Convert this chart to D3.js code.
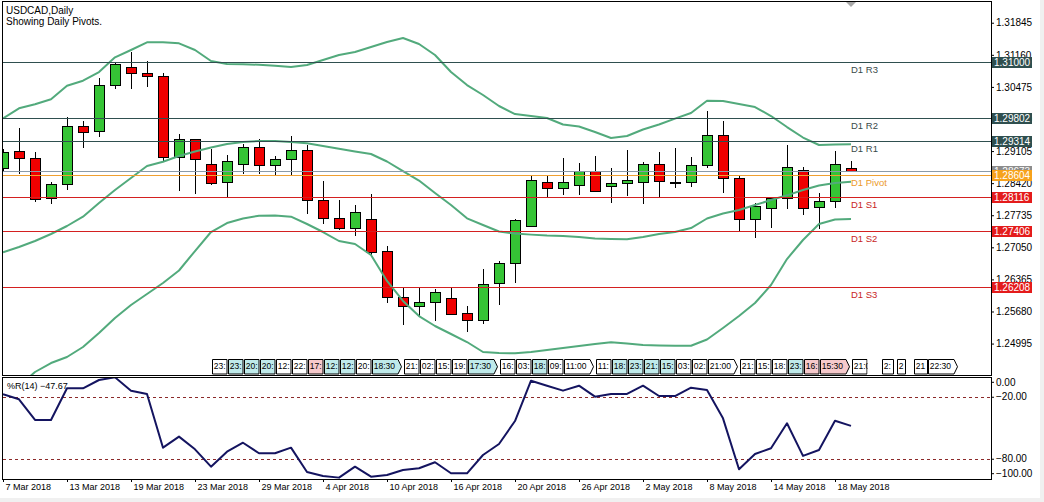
<!DOCTYPE html>
<html><head><meta charset="utf-8">
<script src="https://cdn.jsdelivr.net/npm/d3@7/dist/d3.min.js"></script>
<style>
html,body{margin:0;padding:0;background:#fff;overflow:hidden;}
svg{display:block;font-family:"Liberation Sans",Arial,sans-serif;}
</style></head><body>
<svg id="c" width="1044" height="502"></svg>
<script>
// ---------------- data ----------------
const dates = ["7 Mar 2018","8 Mar 2018","9 Mar 2018","12 Mar 2018","13 Mar 2018","14 Mar 2018","15 Mar 2018","16 Mar 2018",
"19 Mar 2018","20 Mar 2018","21 Mar 2018","22 Mar 2018","23 Mar 2018","26 Mar 2018","27 Mar 2018","28 Mar 2018",
"29 Mar 2018","30 Mar 2018","2 Apr 2018","3 Apr 2018","4 Apr 2018","5 Apr 2018","6 Apr 2018","9 Apr 2018",
"10 Apr 2018","11 Apr 2018","12 Apr 2018","13 Apr 2018","16 Apr 2018","17 Apr 2018","18 Apr 2018","19 Apr 2018",
"20 Apr 2018","23 Apr 2018","24 Apr 2018","25 Apr 2018","26 Apr 2018","27 Apr 2018","30 Apr 2018","1 May 2018",
"2 May 2018","3 May 2018","4 May 2018","7 May 2018","8 May 2018","9 May 2018","10 May 2018","11 May 2018",
"14 May 2018","15 May 2018","16 May 2018","17 May 2018","18 May 2018","21 May 2018"];

const open = [1.28737,1.29106,1.28957,1.28096,1.28395,1.29634,1.29527,1.30509,1.30893,1.30771,1.30707,1.28985,1.29356,1.28822,1.28438,1.28822,
1.29185,1.28814,1.28942,1.29121,1.28060,1.27676,1.27456,1.27654,1.26965,1.25995,1.25791,1.25876,1.25961,1.25641,1.25492,1.26282,
1.26709,1.27499,1.28438,1.28306,1.28387,1.28673,1.28365,1.28417,1.28438,1.28829,1.28453,1.28438,1.28801,1.29448,1.28523,1.27661,
1.27883,1.28096,1.28694,1.27904,1.28032,1.28737];
const high = [1.29149,1.29604,1.29078,1.28451,1.29826,1.29747,1.30658,1.31006,1.31226,1.31028,1.30765,1.29469,1.29362,1.29149,1.29021,1.29256,
1.29369,1.28993,1.29426,1.29228,1.28466,1.28060,1.27953,1.28182,1.27078,1.26209,1.26203,1.26153,1.26203,1.25797,1.26580,1.26751,
1.27654,1.28572,1.28600,1.28952,1.28850,1.28999,1.28737,1.29128,1.28878,1.29085,1.29170,1.28978,1.29960,1.29747,1.28594,1.27990,
1.28118,1.29234,1.28758,1.28203,1.29100,1.28893];
const low = [1.28679,1.28643,1.28045,1.28002,1.28288,1.29198,1.29433,1.30445,1.30445,1.30500,1.28899,1.28280,1.28216,1.28395,1.28131,1.28630,
1.28630,1.28587,1.28622,1.27789,1.27563,1.27441,1.27319,1.26879,1.25876,1.25419,1.25577,1.25504,1.25620,1.25257,1.25440,1.25846,
1.26316,1.27499,1.28131,1.28192,1.28188,1.28246,1.28024,1.28167,1.28002,1.28145,1.28344,1.28365,1.28758,1.28237,1.27420,1.27276,
1.27490,1.27889,1.27768,1.27469,1.27904,1.28673];
const close = [1.29091,1.28950,1.28088,1.28402,1.29634,1.29518,1.30515,1.30964,1.30765,1.30701,1.28985,1.29356,1.28929,1.28417,1.28886,1.29185,
1.28801,1.28929,1.29121,1.28054,1.27669,1.27456,1.27797,1.26956,1.25995,1.25791,1.25876,1.26089,1.25620,1.25492,1.26267,1.26709,
1.27627,1.28481,1.28310,1.28438,1.28673,1.28259,1.28417,1.28487,1.28829,1.28459,1.28451,1.28801,1.29448,1.28523,1.27648,1.27932,
1.28096,1.28758,1.27883,1.28032,1.28829,1.28673];

const bbUpper = [1.29804,1.30018,1.30103,1.30210,1.30500,1.30607,1.30793,1.31107,1.31263,1.31427,1.31427,1.31405,1.31263,1.31028,1.30964,1.30957,
1.30949,1.30927,1.30900,1.30942,1.31049,1.31156,1.31220,1.31327,1.31433,1.31519,1.31391,1.31156,1.30793,1.30515,1.30302,1.30067,
1.29896,1.29853,1.29811,1.29672,1.29629,1.29512,1.29384,1.29426,1.29565,1.29672,1.29798,1.29917,1.30180,1.30174,1.30110,1.30045,
1.29853,1.29618,1.29394,1.29234,1.29245,1.29249];
const bbMiddle = [1.26943,1.27057,1.27185,1.27334,1.27505,1.27704,1.27996,1.28274,1.28530,1.28786,1.28878,1.28999,1.29096,1.29181,1.29256,1.29298,
1.29320,1.29320,1.29298,1.29271,1.29213,1.29155,1.29096,1.29042,1.28882,1.28679,1.28476,1.28209,1.27953,1.27669,1.27526,1.27388,
1.27345,1.27321,1.27302,1.27291,1.27270,1.27240,1.27227,1.27221,1.27270,1.27334,1.27377,1.27462,1.27665,1.27772,1.27847,1.27953,
1.28060,1.28160,1.28274,1.28370,1.28423,1.28451];
const bbLower = [1.23790,1.24089,1.24388,1.24580,1.24708,1.24922,1.25220,1.25541,1.25818,1.26053,1.26288,1.26555,1.26971,1.27377,1.27569,1.27665,
1.27725,1.27729,1.27704,1.27548,1.27377,1.27185,1.27121,1.26886,1.26331,1.25904,1.25583,1.25370,1.25199,1.25028,1.24815,1.24793,
1.24787,1.24815,1.24857,1.24900,1.24943,1.24986,1.25022,1.24996,1.24964,1.24954,1.24949,1.24949,1.25082,1.25327,1.25583,1.25861,
1.26245,1.26800,1.27206,1.27548,1.27644,1.27654];

const wpr = [-17,-22,-42,-42,-11.3,-11.3,-3.3,-0.7,-13.6,-16.8,-68.8,-58.1,-70.4,-87.2,-72.7,-64,
-74.2,-74.2,-68.8,-92.3,-96.2,-97.8,-87.2,-96.9,-95.2,-90.4,-88.7,-82.9,-93.6,-93.6,-75.9,-65.2,
-43,-4,-8.8,-13.6,-8.8,-19.4,-16.8,-16.8,-8.8,-18.8,-18.8,-10.7,-13,-40.4,-89.7,-74.9,
-69.4,-45.2,-76.8,-71,-42.7,-47.67];

const priceTicks = [1.31845,1.31160,1.30475,1.29790,1.29105,1.28420,1.27735,1.27050,1.26365,1.25680,1.24995];
const pivotNames = ["D1 R3","D1 R2","D1 R1","D1 Pivot","D1 S1","D1 S2","D1 S3"];
const pivotValues = [1.31000,1.29802,1.29314,1.28604,1.28116,1.27406,1.26208];
const pivotKinds = ["r","r","r","p","s","s","s"];
const bidPrice = 1.28673;
const wprTicks = [0,-20,-80,-100];
const wprLevels = [-20,-80];
const dateTickIdx = [0,4,8,12,16,20,24,28,32,36,40,44,48,52];

const eventIdx = [13,14,15,16,17,18,19,20,21,22,23,25,26,27,28,29,31,32,33,34,35,37,38,39,40,41,42,43,44,46,47,48,49,50,51,53,54.85,55.8,56.9,57.77];
const eventText = ["23:","23:","20:","20:","12:","22:","17:","12:","12:","20:","18:30","21:","02:","15:","19:","17:30","16:","03:","18:","09:","11:00","11:","18:","23:","21:","15:","03:","02:","21:00","21:","15:","18:","23:","16:","15:30","21:00","2:","2","21","22:30"];
const eventKind = ["w","c","c","c","w","w","p","c","c","w","c","w","w","w","w","c","w","w","c","w","w","w","c","c","c","c","w","w","w","w","w","w","c","p","p","w","w","w","w","w"];
const eventShape = ["b","b","b","b","b","b","b","b","b","b","a","b","b","b","b","a","b","b","b","b","a","b","b","b","b","b","b","b","a","b","b","b","b","b","a","b","f","f","f","a"];

// ---------------- layout ----------------
const svg = d3.select("#c");
const X0 = 3, X1 = 991;
const mainTop = 1, mainBot = 375, indTop = 377, indBot = 479;
const FONT = '"Liberation Sans",Arial,sans-serif';

svg.append("rect").attr("width",1044).attr("height",502).attr("fill","#ffffff");
svg.append("rect").attr("x",0).attr("y",498).attr("width",1044).attr("height",4).attr("fill","#f0f0f0");
svg.append("rect").attr("x",1040).attr("y",0).attr("width",4).attr("height",502).attr("fill","#f0f0f0");

const x = d3.scaleLinear().domain([0, dates.length-1]).range([3, 851]);
const y = d3.scaleLinear().domain([1.24324, 1.32309]).range([mainBot, mainTop]);
const yw = d3.scaleLinear().domain([-100, 0]).range([479.9, 376.6]);

const defs = svg.append("defs");
defs.append("clipPath").attr("id","clipMain").append("rect")
  .attr("x",X0).attr("y",mainTop).attr("width",X1-X0).attr("height",mainBot-mainTop);
defs.append("clipPath").attr("id","clipInd").append("rect")
  .attr("x",X0).attr("y",indTop).attr("width",X1-X0).attr("height",indBot-indTop);

const gMain = svg.append("g").attr("clip-path","url(#clipMain)");

// candles
const cd = dates.map((d,i)=>({i,o:open[i],h:high[i],l:low[i],c:close[i]}));
const px = i => Math.round(x(i));
gMain.append("g").selectAll("line").data(cd).join("line")
  .attr("x1",d=>px(d.i)+0.5).attr("x2",d=>px(d.i)+0.5)
  .attr("y1",d=>Math.round(y(d.h))).attr("y2",d=>Math.round(y(d.l))+1)
  .attr("stroke","#000").attr("stroke-width",1).attr("shape-rendering","crispEdges");
gMain.append("g").selectAll("rect").data(cd).join("rect")
  .attr("x",d=>px(d.i)-4.5).attr("width",10)
  .attr("y",d=>Math.round(y(Math.max(d.o,d.c)))+0.5)
  .attr("height",d=>Math.max(1, Math.round(y(Math.min(d.o,d.c))) - Math.round(y(Math.max(d.o,d.c)))))
  .attr("fill",d=>d.c>=d.o ? "#35c435" : "#f00000")
  .attr("stroke","#000").attr("stroke-width",1).attr("shape-rendering","crispEdges");

// Bollinger bands
const bandLine = d3.line().x((d,i)=>x(i)).y(d=>y(d));
[bbUpper,bbMiddle,bbLower].forEach(arr=>{
  gMain.append("path").attr("d",bandLine(arr)).attr("fill","none")
    .attr("stroke","#52aa7c").attr("stroke-width",2).attr("stroke-linejoin","round");
});

// pivot lines
const pivColor = {r:"#2f4f4f", p:"#f0a030", s:"#d42020"};
const pivText = {r:"#3a4a4a", p:"#eb9a2a", s:"#c81e1e"};
const pivBg = {r:"#2f4f4f", p:"#f7a21b", s:"#e41b1b"};
gMain.append("line").attr("x1",X0).attr("x2",X1)
  .attr("y1",Math.round(y(bidPrice))+0.5).attr("y2",Math.round(y(bidPrice))+0.5)
  .attr("stroke","#8a9aa8").attr("stroke-width",1);
pivotValues.forEach((v,k)=>{
  const yy = Math.round(y(v))+0.5;
  gMain.append("line").attr("x1",X0).attr("x2",X1).attr("y1",yy).attr("y2",yy)
    .attr("stroke",pivColor[pivotKinds[k]]).attr("stroke-width",1);
  gMain.append("text").attr("x",x(dates.length-1)).attr("y",yy+10)
    .attr("font-size","9.5px").attr("fill",pivText[pivotKinds[k]]).text(pivotNames[k]);
});

// timeline event boxes
const boxTop = 359.5, boxBot = 374;
const gEv = gMain.append("g");
eventIdx.forEach((ix,k)=>{
  const x0 = Math.round(x(ix)) + 1.5;
  const kind = eventKind[k];
  const fill = kind==="c" ? "#bfeaea" : kind==="p" ? "#f6c9cb" : "#ffffff";
  const shp = eventShape[k];
  const g = gEv.append("g");
  const t = g.append("text").attr("x",x0+1.3).attr("y",369).attr("font-size","8.5px").attr("fill","#000").text(eventText[k]);
  let w = 14.5;
  if (shp==="f") w = Math.ceil(t.node().getComputedTextLength()) + 3;
  let d;
  if (shp==="a") {
    d = `M${x0},${boxTop}H${x0+25.5}L${x0+29},${(boxTop+boxBot)/2}L${x0+25.5},${boxBot}H${x0}Z`;
  } else {
    d = `M${x0},${boxTop}H${x0+w}V${boxBot}H${x0}Z`;
  }
  g.insert("path","text").attr("d",d).attr("fill",fill).attr("stroke","#000").attr("stroke-width",1);
  if (k===eventIdx.length-5) {
    const cid = "evclip"+k;
    defs.append("clipPath").attr("id",cid).append("rect").attr("x",x0-1).attr("y",boxTop-1).attr("width",16).attr("height",18);
    g.attr("clip-path",`url(#${cid})`);
  }
});

// shift marker triangle
svg.append("path").attr("d","M845,1L857,1L851,7Z").attr("fill","#a8a8a8");

// main frame
svg.append("rect").attr("x",X0-0.5).attr("y",mainTop).attr("width",X1-X0+0.5).attr("height",mainBot-mainTop)
  .attr("fill","none").attr("stroke","#000").attr("stroke-width",1).attr("shape-rendering","crispEdges");

// right price axis
const axP = d3.axisRight(y).tickValues(priceTicks).tickSize(3).tickPadding(2).tickFormat(d3.format(".5f"));
const gAx = svg.append("g").attr("transform",`translate(${X1},0)`).call(axP);
gAx.select(".domain").remove();
gAx.selectAll("text").attr("font-family",FONT).attr("font-size","10px").attr("fill","#000");
gAx.selectAll("line").attr("stroke","#000");

// price labels
const gLab = svg.append("g");
function priceLabel(v, bg){
  const yy = Math.round(y(v));
  gLab.append("rect").attr("x",992).attr("y",yy-5).attr("width",40).attr("height",11).attr("fill",bg);
  gLab.append("text").attr("x",994).attr("y",yy+4).attr("font-size","10px").attr("fill","#fff").text(d3.format(".5f")(v));
}
priceLabel(bidPrice, "#8c8c8c");
pivotValues.forEach((v,k)=>priceLabel(v, pivBg[pivotKinds[k]]));

// header
svg.append("text").attr("x",6).attr("y",13.5).attr("font-size","10px").attr("fill","#000").text("USDCAD,Daily");
svg.append("text").attr("x",6).attr("y",25).attr("font-size","10px").attr("fill","#000").text("Showing Daily Pivots.");

// ---------------- indicator panel ----------------
const gInd = svg.append("g").attr("clip-path","url(#clipInd)");
wprLevels.forEach(v=>{
  const yy = Math.round(yw(v))+0.5;
  gInd.append("line").attr("x1",X0).attr("x2",X1).attr("y1",yy).attr("y2",yy)
    .attr("stroke","#8c2a2a").attr("stroke-width",1).attr("stroke-dasharray","3,3");
});
const wLine = d3.line().x((d,i)=>x(i)).y(d=>yw(d));
gInd.append("path").attr("d",wLine(wpr)).attr("fill","none").attr("stroke","#141460")
  .attr("stroke-width",2).attr("stroke-linejoin","round");

svg.append("rect").attr("x",X0-0.5).attr("y",indTop+0.5).attr("width",X1-X0+0.5).attr("height",indBot-indTop)
  .attr("fill","none").attr("stroke","#000").attr("stroke-width",1).attr("shape-rendering","crispEdges");

svg.append("text").attr("x",7).attr("y",389).attr("font-size","9px").attr("fill","#000")
  .text("%R(14) " + d3.format(".2f")(wpr[wpr.length-1]));

const axW = d3.axisRight(yw).tickValues(wprTicks).tickSize(3).tickPadding(2).tickFormat(d3.format(".2f"));
const gAxW = svg.append("g").attr("transform",`translate(${X1},0)`).call(axW);
gAxW.select(".domain").remove();
gAxW.selectAll("text").attr("font-family",FONT).attr("font-size","10px").attr("fill","#000");
gAxW.selectAll(".tick").attr("transform",d=>{
  let yy = yw(d);
  if (d===0) yy += 5.7;
  if (d===-100) yy -= 6.2;
  return `translate(0,${yy})`;
});

// date axis
const axD = d3.axisBottom(x).tickValues(dateTickIdx).tickSize(3).tickFormat(i=>dates[i]);
const gAxD = svg.append("g").attr("transform",`translate(0,${indBot})`).call(axD);
gAxD.select(".domain").remove();
gAxD.selectAll("text").attr("font-family",FONT).attr("font-size","9px").attr("fill","#000")
  .attr("text-anchor","start").attr("x",2).attr("y",5);
gAxD.selectAll("line").attr("stroke","#000");
</script>
</body></html>
